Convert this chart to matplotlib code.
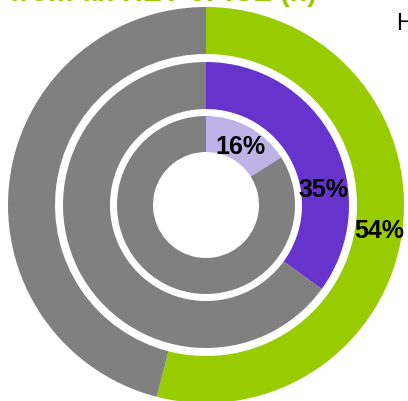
import matplotlib
matplotlib.use("Agg")
import matplotlib.pyplot as plt
import numpy as np

plt.rcParams['font.family'] = ['Liberation Sans', 'DejaVu Sans']

# Data (percent shares, outer -> inner ring)
ring_names = ["outer", "middle", "inner"]
ring_values = [54, 35, 16]
ring_colors = ["#99CC00", "#6633CC", "#BDB3E6"]
rest_color = "#808080"
title_text = "from an HEV or ICE (n)"
legend_text = "HEV"

W, H = 408, 402
fig = plt.figure(figsize=(W / 100, H / 100), dpi=100)
ax = fig.add_axes([0, 0, 1, 1])

radii = [198, 143, 89]
widths = [47, 47, 36]
label_frac = [0.5, 0.64, 0.5]   # position of label along the wedge (fraction of its angle)

for v, c, r, w, lf in zip(ring_values, ring_colors, radii, widths, label_frac):
    ax.pie([v, 100 - v], radius=r, startangle=90, counterclock=False,
           colors=[c, rest_color], wedgeprops=dict(width=w, linewidth=0))
    ang = np.deg2rad(360 * v / 100 * lf)
    rr = r - w / 2
    ax.text(rr * np.sin(ang), rr * np.cos(ang) - 3, f"{v}%", ha="center", va="center",
            fontsize=18, fontweight="bold", color="black")

ax.set_xlim(-206, 202)
ax.set_ylim(-196, 206)
ax.set_aspect("equal")
ax.axis("off")

fig.text(10 / W, 1 - 1 / H, title_text, ha="left", va="baseline",
         fontsize=20.5, fontweight="bold", color="#99CC00")
fig.text(396 / W, 1 - 30 / H, legend_text, ha="left", va="baseline",
         fontsize=17, color="black")

fig.savefig("out.png", dpi=100)
